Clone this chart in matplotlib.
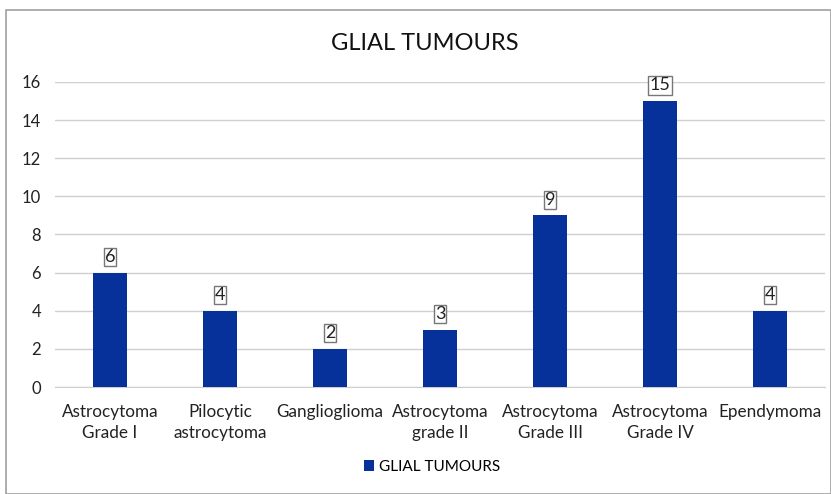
import matplotlib.pyplot as plt
from matplotlib.patches import Rectangle

categories = ["Astrocytoma\nGrade I", "Pilocytic\nastrocytoma", "Ganglioglioma",
              "Astrocytoma\ngrade II", "Astrocytoma\nGrade III", "Astrocytoma\nGrade IV",
              "Ependymoma"]
counts = [6, 4, 2, 3, 9, 15, 4]
yticks = list(range(0, 17, 2))

BAR = "#06309a"
plt.rcParams["font.family"] = ["Lato", "DejaVu Sans"]

fig = plt.figure(figsize=(8.31, 4.94), dpi=100)
fig.patches.append(Rectangle((6 / 831, 0), 1 - 6 / 831, 1 - 10 / 494,
                             transform=fig.transFigure, fill=False,
                             edgecolor="#a0a0a0", lw=1.2))
ax = fig.add_axes([55 / 831, 1 - 387 / 494, 770 / 831, 305 / 494])

x = range(len(categories))
bars = ax.bar(x, counts, width=0.31, color=BAR, zorder=3, label="GLIAL TUMOURS")
for xi, v in zip(x, counts):
    ax.text(xi, v + 0.4, str(v), ha="center", va="bottom", fontsize=13,
            color="#222", zorder=4,
            bbox=dict(boxstyle="square,pad=0.06", fc="white", ec="#777", lw=1))

ax.set_xlim(-0.5, len(categories) - 0.5)
ax.set_ylim(0, 16)
ax.set_yticks(yticks)
ax.set_xticks(list(x))
ax.set_xticklabels(categories, fontsize=12.3, color="#222", linespacing=1.4)
ax.tick_params(axis="both", length=0, colors="#222")
ax.tick_params(axis="y", pad=10, labelsize=12)
ax.tick_params(axis="x", pad=12)
ax.grid(axis="y", color="#cfcfcf", lw=1, zorder=0)
for s in ["top", "right", "left"]:
    ax.spines[s].set_visible(False)
ax.spines["bottom"].set_color("#cfcfcf")

fig.text(425 / 831, 1 - 44 / 494, "GLIAL TUMOURS", ha="center", va="center",
         fontsize=17, color="#111")
fig.legend(handles=[bars], loc="center", bbox_to_anchor=(432 / 831, 1 - 467 / 494),
           frameon=False, fontsize=11, handlelength=0.7, handleheight=0.7,
           handletextpad=0.3)

fig.savefig("out.png", dpi=100)
